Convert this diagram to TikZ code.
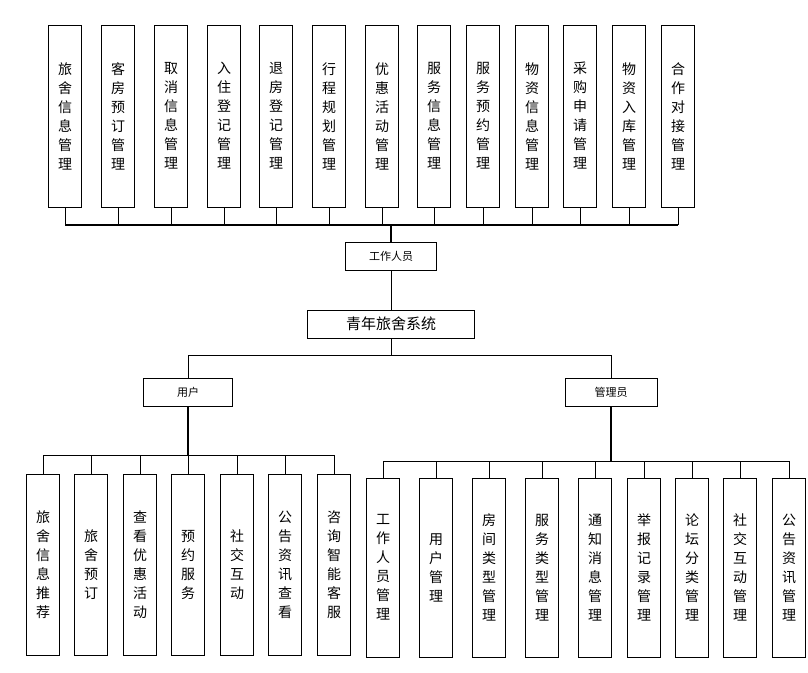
\documentclass[tikz,border=0pt]{standalone}
\usepackage{fontspec}
\newfontfamily\cjk{Noto Sans CJK SC}
\begin{document}
\begin{tikzpicture}[x=1pt,y=-1pt,
  vb/.style={draw,line width=0.8pt,minimum width=33pt,inner sep=0pt,align=center,font=\cjk\fontsize{14}{19}\selectfont},
  hb/.style={draw,line width=0.8pt,inner sep=0pt,font=\cjk\fontsize{11}{13}\selectfont},
  ln/.style={line width=0.6pt},
  bus/.style={line width=1.6pt}]
\useasboundingbox (0,0) rectangle (808,672);
\def\vt#1{\foreach \c in {#1}{\c\\}}
% top boxes
\foreach \x/\t [count=\i] in {65/{旅\\舍\\信\\息\\管\\理},118/{客\\房\\预\\订\\管\\理},171/{取\\消\\信\\息\\管\\理},224/{入\\住\\登\\记\\管\\理},276/{退\\房\\登\\记\\管\\理},329/{行\\程\\规\\划\\管\\理},382/{优\\惠\\活\\动\\管\\理},434/{服\\务\\信\\息\\管\\理},483/{服\\务\\预\\约\\管\\理},532/{物\\资\\信\\息\\管\\理},580/{采\\购\\申\\请\\管\\理},629/{物\\资\\入\\库\\管\\理},678/{合\\作\\对\\接\\管\\理}}
  {\node[vb,minimum height=182pt] (t\i) at (\x,116) {\t};
   \draw[ln] (t\i.south) -- (\x,225);}
\draw[bus] (65,225) -- (678,225);
\node[hb,minimum width=91pt,minimum height=28pt] (w) at (391,256) {工作人员};
\node[hb,minimum width=167pt,minimum height=28pt,font=\cjk\fontsize{15}{17}\selectfont] (s) at (391,324) {青年旅舍系统};
\draw[bus] (391,225) -- (w.north);
\draw[ln] (w.south) -- (s.north);
\node[hb,minimum width=89pt,minimum height=28pt] (u) at (188,392) {用户};
\node[hb,minimum width=92pt,minimum height=28pt] (m) at (611,392) {管理员};
\draw[ln] (s.south) -- (391,355);
\draw[ln] (188,355) -- (611,355);
\draw[ln] (188,355) -- (u.north);
\draw[ln] (611,355) -- (m.north);
% user children
\draw[bus] (u.south) -- (188,455);
\draw[ln] (43,455) -- (334,455);
\foreach \x/\t [count=\i] in {43/{旅\\舍\\信\\息\\推\\荐},91/{旅\\舍\\预\\订},140/{查\\看\\优\\惠\\活\\动},188/{预\\约\\服\\务},237/{社\\交\\互\\动},285/{公\\告\\资\\讯\\查\\看},334/{咨\\询\\智\\能\\客\\服}}
  {\node[vb,minimum height=181pt] (b\i) at (\x,564.5) {\t};
   \draw[ln] (\x,455) -- (b\i.north);}
% admin children
\draw[bus] (m.south) -- (611,461);
\draw[ln] (383,461) -- (789,461);
\foreach \x/\t [count=\i] in {383/{工\\作\\人\\员\\管\\理},436/{用\\户\\管\\理},489/{房\\间\\类\\型\\管\\理},542/{服\\务\\类\\型\\管\\理},595/{通\\知\\消\\息\\管\\理},644/{举\\报\\记\\录\\管\\理},692/{论\\坛\\分\\类\\管\\理},740/{社\\交\\互\\动\\管\\理},789/{公\\告\\资\\讯\\管\\理}}
  {\node[vb,minimum height=179pt] (c\i) at (\x,567.5) {\t};
   \draw[ln] (\x,461) -- (c\i.north);}
\end{tikzpicture}
\end{document}
